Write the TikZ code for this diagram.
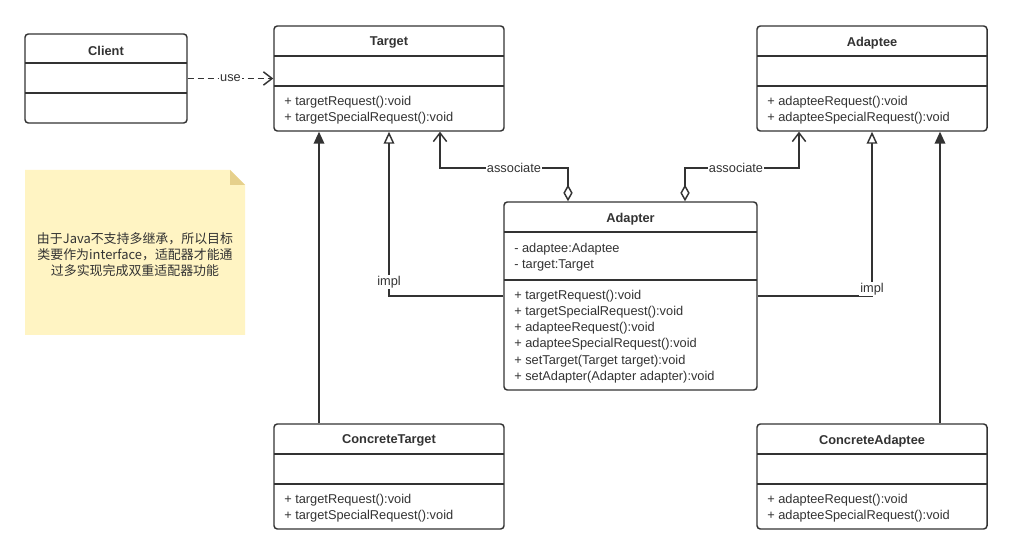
\documentclass[tikz,border=0pt]{standalone}
\usepackage{fontspec}
\setmainfont{Liberation Sans}
\newfontfamily\cjk{Noto Sans CJK SC}
\usetikzlibrary{arrows.meta,fit}
\definecolor{linec}{HTML}{333333}
\definecolor{textc}{HTML}{333333}
\definecolor{notefill}{HTML}{FFF4C3}
\definecolor{notefold}{HTML}{E6D08C}
\tikzset{
  classbox/.style={draw=linec, line width=1.1pt, rounded corners=2.5pt, inner sep=0pt, fill=white},
  divider/.style={draw=linec, line width=1.1pt},
  ctitle/.style={font=\fontsize{9.6}{11}\selectfont\bfseries, text=textc, inner sep=0pt, yshift=-1.4pt},
  member/.style={font=\fontsize{9.6}{11}\selectfont, text=textc, inner sep=0pt, anchor=west, yshift=-1.2pt},
  conn/.style={draw=linec, line width=1.1pt},
  lbl/.style={font=\fontsize{9.6}{11}\selectfont, text=textc, fill=white, inner sep=1pt},
  openarrow/.style={-{Straight Barb[length=6.5pt,width=10pt,line width=1.1pt]}},
  realize/.style={-{Triangle[open,length=9pt,width=8pt,line width=1.1pt,fill=white]}},
  inherit/.style={-{Triangle[length=9pt,width=8pt]}},
  aggr/.style={{Diamond[open,length=12.5pt,width=7pt,line width=1.1pt,fill=white]}-{Straight Barb[length=6.5pt,width=10pt,line width=1.1pt]}},
}
\begin{document}
\begin{tikzpicture}[x=0.75pt,y=-0.75pt]
\useasboundingbox (0,0) rectangle (1012,555);
\fill[white] (0,0) rectangle (1012,555);

% Client
\node[classbox, fit={(25,34) (187,123)}] (client) {};
\draw[divider] (25,63) -- (187,63);
\draw[divider] (25,93) -- (187,93);
\node[ctitle] (clientT) at (106,49) {Client};

% Target
\node[classbox, fit={(274,26) (504,131)}] (target) {};
\draw[divider] (274,56) -- (504,56);
\draw[divider] (274,86) -- (504,86);
\node[ctitle] (targetT) at (389,41) {Target};
\node[member] (t1) at (284,101) {+ targetRequest():void};
\node[member] (t2) at (284,117) {+ targetSpecialRequest():void};

% Adaptee
\node[classbox, fit={(757,26) (987,131)}] (adaptee) {};
\draw[divider] (757,56) -- (987,56);
\draw[divider] (757,86) -- (987,86);
\node[ctitle] (adapteeT) at (872,41) {Adaptee};
\node[member] (a1) at (767,101) {+ adapteeRequest():void};
\node[member] (a2) at (767,117) {+ adapteeSpecialRequest():void};

% Adapter
\node[classbox, fit={(504,202) (757,390)}] (adapter) {};
\draw[divider] (504,232) -- (757,232);
\draw[divider] (504,280) -- (757,280);
\node[ctitle] (adapterT) at (630.5,217) {Adapter};
\node[member] (ad1) at (514,248) {- adaptee:Adaptee};
\node[member] (ad2) at (514,264) {- target:Target};
\node[member] (ad3) at (514,295) {+ targetRequest():void};
\node[member] (ad4) at (514,311) {+ targetSpecialRequest():void};
\node[member] (ad5) at (514,327) {+ adapteeRequest():void};
\node[member] (ad6) at (514,343) {+ adapteeSpecialRequest():void};
\node[member] (ad7) at (514,360) {+ setTarget(Target target):void};
\node[member] (ad8) at (514,376) {+ setAdapter(Adapter adapter):void};

% ConcreteTarget
\node[classbox, fit={(274,424) (504,529)}] (ctarget) {};
\draw[divider] (274,454) -- (504,454);
\draw[divider] (274,484) -- (504,484);
\node[ctitle] (ctargetT) at (389,439) {ConcreteTarget};
\node[member] (ct1) at (284,499) {+ targetRequest():void};
\node[member] (ct2) at (284,515) {+ targetSpecialRequest():void};

% ConcreteAdaptee
\node[classbox, fit={(757,424) (987,529)}] (cadaptee) {};
\draw[divider] (757,454) -- (987,454);
\draw[divider] (757,484) -- (987,484);
\node[ctitle] (cadapteeT) at (872,439) {ConcreteAdaptee};
\node[member] (ca1) at (767,499) {+ adapteeRequest():void};
\node[member] (ca2) at (767,515) {+ adapteeSpecialRequest():void};

% Note
\fill[notefill] (25,170) -- (230,170) -- (245,185) -- (245,335) -- (25,335) -- cycle;
\fill[notefold] (230,170) -- (245,185) -- (230,185) -- cycle;
\node[font=\cjk\fontsize{9.7}{12}\selectfont, text=textc, align=center, inner sep=0pt] (note) at (135,255)
  {由于Java不支持多继承，所以目标\\类要作为interface，适配器才能通\\过多实现完成双重适配器功能};

% x positions for connectors
\coordinate (xct) at (319,0);
\coordinate (ximplL) at (389,0);
\coordinate (xassL) at (440,0);
\coordinate (xdL) at (568,0);
\coordinate (xdR) at (685,0);
\coordinate (xassR) at (799,0);
\coordinate (ximplR) at (872,0);
\coordinate (xca) at (940,0);
\coordinate (yass) at (0,168);

% Client uses Target
\draw[conn, dashed, dash pattern=on 4.5pt off 3pt, openarrow] (client.east) -- node[lbl] (useL) {use} (target.west);

% ConcreteTarget -> Target
\draw[conn, inherit] (ctarget.north -| xct) -- (target.south -| xct);
% ConcreteAdaptee -> Adaptee
\draw[conn, inherit] (cadaptee.north -| xca) -- (adaptee.south -| xca);

% impl left
\draw[conn, realize] (adapter.west) -| (target.south -| ximplL);
\node[lbl] (implL) at (389,282) {impl};
% impl right
\draw[conn, realize] (adapter.east) -| (adaptee.south -| ximplR);
\node[lbl] (implR) at (872,289) {impl};

% associate left
\draw[conn, aggr] (adapter.north -| xdL) |- (yass -| xassL) -- (target.south -| xassL);
\node[lbl] (assL) at (514,168) {associate};
% associate right
\draw[conn, aggr] (adapter.north -| xdR) |- (yass -| xassR) -- (adaptee.south -| xassR);
\node[lbl] (assR) at (736,168) {associate};
\end{tikzpicture}
\end{document}
